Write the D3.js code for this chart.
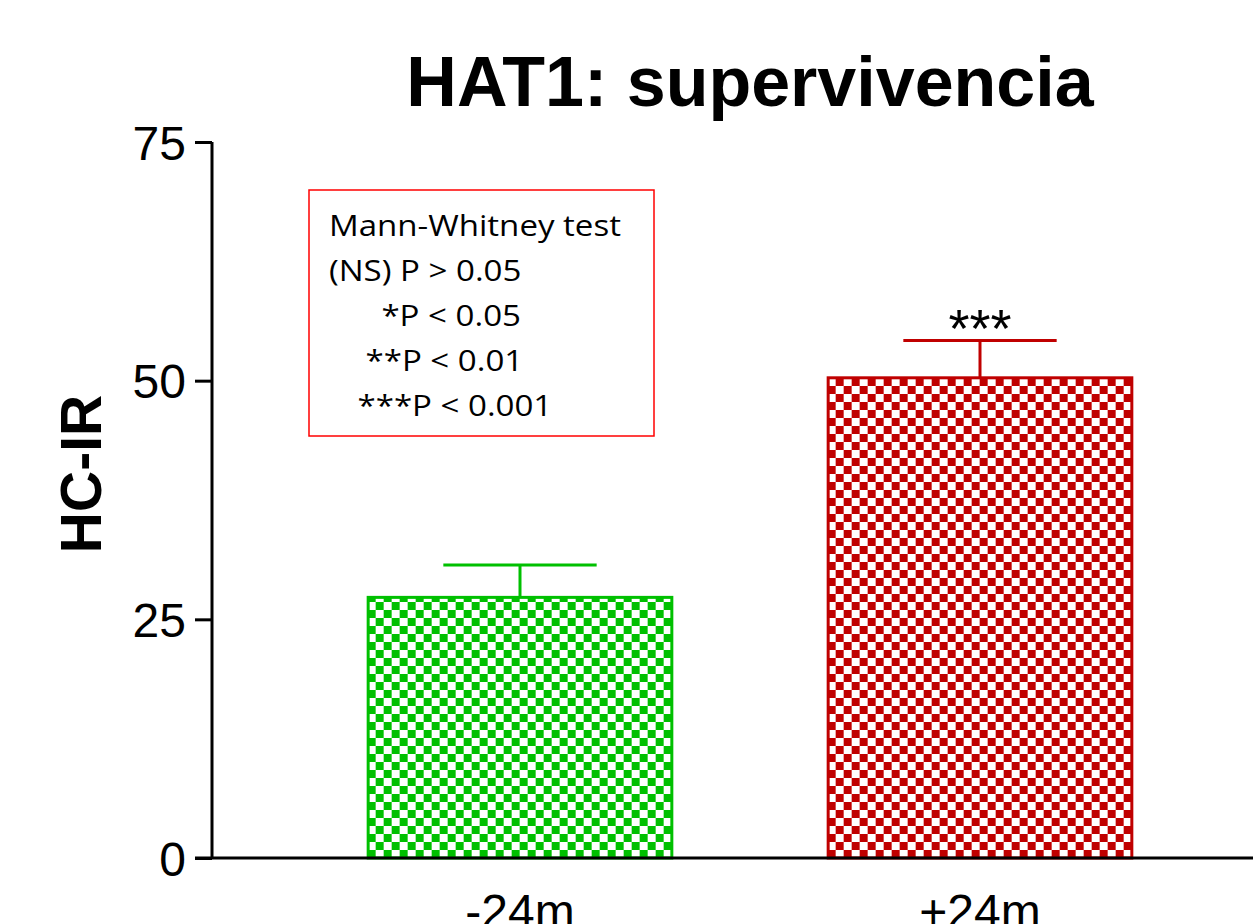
<!DOCTYPE html>
<html>
<head>
<meta charset="utf-8">
<script src="https://cdn.jsdelivr.net/npm/d3@7"></script>
<style>
  body { margin: 0; background: #fff; }
  svg { display: block; }
</style>
</head>
<body>
<svg id="chart" width="1253" height="924"></svg>
<script>
var categories = ['-24m', '+24m']
var means = [27.3, 50.3]
var errors = [3.4, 3.9]
var colors = ['#00c000', '#c00000']
var stars = ['', '***']
var yTicks = [0, 25, 50, 75]
var legendLines = ['Mann-Whitney test', '(NS) P > 0.05', '*P < 0.05', '**P < 0.01', '***P < 0.001']
var legendIndent = [0, 0, 46, 32, 25]

var svg = d3.select('#chart')

var y = d3.scaleLinear().domain([0, 75]).range([858, 142])
var x = d3.scaleBand().domain(categories).range([290, 1210])
  .paddingInner(1 / 3).paddingOuter(1 / 6)

// checker patterns
var defs = svg.append('defs')
colors.forEach(function(c, i) {
  var p = defs.append('pattern')
    .attr('id', 'check' + i)
    .attr('patternUnits', 'userSpaceOnUse')
    .attr('width', 16).attr('height', 16)
    .attr('x', x(categories[i]) + 1).attr('y', 2)
  p.append('rect').attr('width', 16).attr('height', 16).attr('fill', '#fff')
  p.append('rect').attr('width', 8).attr('height', 8).attr('fill', c)
  p.append('rect').attr('x', 8).attr('y', 8).attr('width', 8).attr('height', 8).attr('fill', c)
})

// title
svg.append('text')
  .attr('x', 750).attr('y', 106)
  .attr('text-anchor', 'middle')
  .style('font-family', 'Liberation Sans, Arial, sans-serif')
  .style('font-weight', 'bold')
  .style('font-size', '70px')
  .text('HAT1: supervivencia')

// y label
svg.append('text')
  .attr('transform', 'translate(101,474) rotate(-90)')
  .attr('text-anchor', 'middle')
  .style('font-family', 'Liberation Sans, Arial, sans-serif')
  .style('font-weight', 'bold')
  .style('font-size', '57px')
  .text('HC-IR')

// bars
var bars = svg.append('g')
categories.forEach(function(cat, i) {
  var bx = x(cat), bw = x.bandwidth()
  var cx = bx + bw / 2
  bars.append('rect')
    .attr('x', bx + 1.5).attr('y', y(means[i]))
    .attr('width', bw - 3).attr('height', y(0) - y(means[i]))
    .attr('fill', 'url(#check' + i + ')')
    .attr('stroke', colors[i]).attr('stroke-width', 3)
  bars.append('line')
    .attr('x1', cx).attr('x2', cx)
    .attr('y1', y(means[i])).attr('y2', y(means[i] + errors[i]))
    .attr('stroke', colors[i]).attr('stroke-width', 3)
  bars.append('line')
    .attr('x1', cx - bw / 4).attr('x2', cx + bw / 4)
    .attr('y1', y(means[i] + errors[i])).attr('y2', y(means[i] + errors[i]))
    .attr('stroke', colors[i]).attr('stroke-width', 3)
  if (stars[i]) {
    bars.append('text')
      .attr('x', cx).attr('y', y(means[i] + errors[i]) + 6)
      .attr('text-anchor', 'middle')
      .style('font-family', 'Liberation Sans, Arial, sans-serif')
      .style('font-size', '54px')
      .text(stars[i])
  }
})

// y axis
var yAxis = svg.append('g')
  .attr('transform', 'translate(212,0)')
  .call(d3.axisLeft(y).tickValues(yTicks).tickSize(17).tickPadding(9))
yAxis.select('.domain').attr('stroke-width', 3).attr('d', 'M0,' + y(75) + 'V' + y(0))
yAxis.selectAll('.tick line').attr('stroke-width', 3)
yAxis.selectAll('.tick text')
  .attr('dy', '0.36em')
  .style('font-family', 'Liberation Sans, Arial, sans-serif')
  .style('font-size', '48px')
  .attr('fill', '#000')

// x axis
var xAxis = svg.append('g')
  .attr('transform', 'translate(0,' + y(0) + ')')
  .call(d3.axisBottom(x).tickSize(0).tickPadding(36))
xAxis.select('.domain').attr('stroke-width', 3).attr('d', 'M195,0H1253')
xAxis.selectAll('.tick text')
  .attr('dy', '0.71em')
  .style('font-family', 'Liberation Sans, Arial, sans-serif')
  .style('font-size', '48px')
  .attr('fill', '#000')

// legend box
var lg = svg.append('g')
lg.append('rect')
  .attr('x', 309).attr('y', 190).attr('width', 345).attr('height', 246)
  .attr('fill', '#fff').attr('stroke', '#ff0000').attr('stroke-width', 1.5)
var lgText = lg.append('g')
  .attr('transform', 'translate(329,0) scale(1.14,1)')
lgText.selectAll('text').data(legendLines).enter().append('text')
  .attr('x', function(d, i) { return legendIndent[i] })
  .attr('y', function(d, i) { return 236 + i * 45 })
  .style('font-family', 'Open Sans, Noto Sans, sans-serif')
  .style('font-size', '29px')
  .text(function(d) { return d })
</script>
</body>
</html>
